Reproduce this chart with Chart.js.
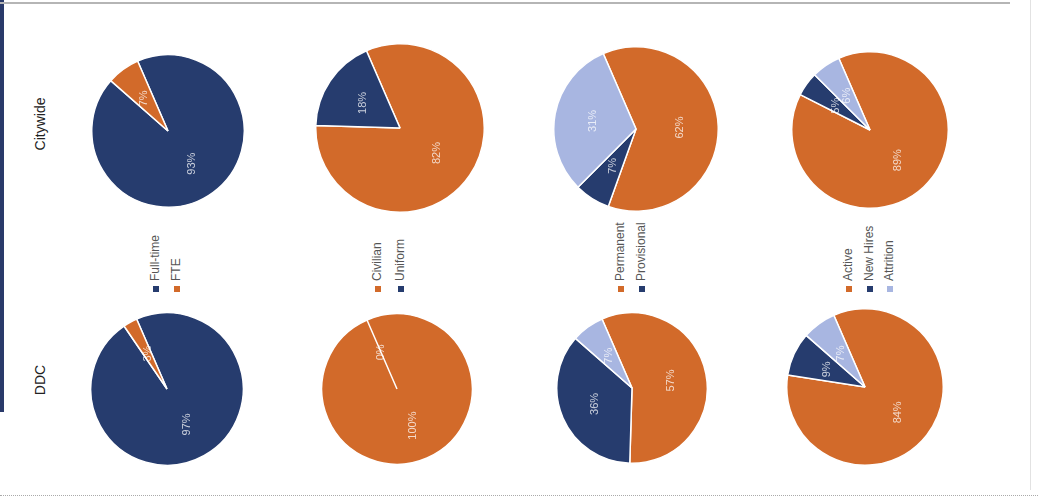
<!DOCTYPE html>
<html>
<head>
<meta charset="utf-8">
<title>Workforce pies</title>
<script src="https://cdn.jsdelivr.net/npm/chart.js@4.4.0/dist/chart.umd.min.js"></script>
<style>
  html, body { margin: 0; padding: 0; background: #fff; }
  body { width: 1038px; height: 502px; position: relative; overflow: hidden; font-family: "Liberation Sans", Arial, sans-serif; }
  .pie { position: absolute; }
  .rowlabel { position: absolute; width: 200px; height: 20px; line-height: 20px; text-align: center; font-size: 14px; color: #222; transform: rotate(-90deg); }
  .lg { position: absolute; transform-origin: 0 0; transform: rotate(-90deg); white-space: nowrap; font-size: 12px; line-height: 12px; height: 12px; color: #555; }
  .lg i { display: inline-block; width: 6px; height: 6px; margin-right: 5px; vertical-align: 0px; }
  .edge-left { position: absolute; left: 0; top: 0; width: 4px; height: 412px; background: #2a3a6a; }
  .edge-top { position: absolute; left: 0; top: 2px; width: 1010px; height: 2px; background: #b5b5b5; }
  .edge-bottom { position: absolute; left: 0; top: 495px; width: 1038px; border-top: 1px dotted #aaa; }
  .edge-right { position: absolute; left: 1030px; top: 0; width: 1px; height: 490px; background: #e2e2e2; }
</style>
</head>
<body>
<div class="edge-left"></div>
<div class="edge-top"></div>
<div class="edge-bottom"></div>
<div class="edge-right"></div>

<div class="rowlabel" style="left:-60px; top:114px;">Citywide</div>
<div class="rowlabel" style="left:-60px; top:370px;">DDC</div>

<script>
// categories
const workTypeCats = ["Full-time", "FTE"];
const staffCats = ["Civilian", "Uniform"];
const statusCats = ["Permanent", "Provisional", "Other"];
const hiringCats = ["Active", "New Hires", "Attrition"];

// values (%), top row = Citywide, bottom row = DDC
const citywideWorkType = [93, 7];
const ddcWorkType = [97, 3];
const citywideStaff = [82, 18];
const ddcStaff = [100, 0];
const citywideStatus = [62, 7, 31];
const ddcStatus = [57, 36, 7];
const citywideHiring = [89, 5, 6];
const ddcHiring = [84, 9, 7];

const ORANGE = "#d26a2a";
const NAVY = "#263c6e";
const LIGHT = "#a8b6e1";

const workTypeColors = [NAVY, ORANGE];
const staffColors = [ORANGE, NAVY];
const statusColors = [ORANGE, NAVY, LIGHT];
const hiringColors = [ORANGE, NAVY, LIGHT];

// legend entries shown for each column (the third status slice has no legend entry)
const legends = [
  { cats: workTypeCats, colors: workTypeColors, xs: [155, 176] },
  { cats: staffCats, colors: staffColors, xs: [377, 400] },
  { cats: statusCats.slice(0, 2), colors: statusColors, xs: [620, 641] },
  { cats: hiringCats, colors: hiringColors, xs: [848, 869, 889] },
];

// pie layout: centre and radius
const pies = [
  { cats: workTypeCats, data: citywideWorkType, colors: workTypeColors, cx: 168, cy: 131, r: 76 },
  { cats: staffCats, data: citywideStaff, colors: staffColors, cx: 400, cy: 128, r: 84 },
  { cats: statusCats, data: citywideStatus, colors: statusColors, cx: 636, cy: 129, r: 82 },
  { cats: hiringCats, data: citywideHiring, colors: hiringColors, cx: 870, cy: 130, r: 78 },
  { cats: workTypeCats, data: ddcWorkType, colors: workTypeColors, cx: 167, cy: 389, r: 76 },
  { cats: staffCats, data: ddcStaff, colors: staffColors, cx: 397, cy: 389, r: 75 },
  { cats: statusCats, data: ddcStatus, colors: statusColors, cx: 632, cy: 388, r: 75 },
  { cats: hiringCats, data: ddcHiring, colors: hiringColors, cx: 865, cy: 387, r: 78 },
];

// percentage labels, written sideways like the page
const pctLabels = {
  id: "pctLabels",
  afterDatasetsDraw(chart) {
    const ctx = chart.ctx;
    const meta = chart.getDatasetMeta(0);
    const values = chart.data.datasets[0].data;
    ctx.save();
    ctx.font = "11px 'Liberation Sans', Arial, sans-serif";
    ctx.fillStyle = "rgba(255,255,255,0.75)";
    ctx.textAlign = "center";
    ctx.textBaseline = "middle";
    meta.data.forEach((arc, i) => {
      const p = arc.getProps(["x", "y", "startAngle", "endAngle", "outerRadius"], true);
      const mid = (p.startAngle + p.endAngle) / 2;
      const d = p.outerRadius * 0.53;
      ctx.save();
      ctx.translate(p.x + Math.cos(mid) * d, p.y + Math.sin(mid) * d);
      ctx.rotate(-Math.PI / 2);
      ctx.fillText(values[i] + "%", 0, 0);
      ctx.restore();
    });
    ctx.restore();
  },
};

pies.forEach((p) => {
  const box = document.createElement("div");
  box.className = "pie";
  const size = p.r * 2 + 2;
  box.style.left = (p.cx - size / 2) + "px";
  box.style.top = (p.cy - size / 2) + "px";
  box.style.width = size + "px";
  box.style.height = size + "px";
  const canvas = document.createElement("canvas");
  box.appendChild(canvas);
  document.body.appendChild(box);

  new Chart(canvas.getContext("2d"), {
    type: "pie",
    data: {
      labels: p.cats,
      datasets: [
        {
          data: p.data,
          backgroundColor: p.colors,
          borderColor: "#ffffff",
          borderWidth: 1.5,
        },
      ],
    },
    options: {
      responsive: true,
      maintainAspectRatio: false,
      animation: false,
      rotation: -23.5,
      layout: { padding: 0 },
      plugins: {
        legend: { display: false },
        tooltip: { enabled: false },
      },
    },
    plugins: [pctLabels],
  });
});

legends.forEach((g) => {
  g.cats.forEach((name, i) => {
    const el = document.createElement("div");
    el.className = "lg";
    el.style.left = (g.xs[i] - 6) + "px";
    el.style.top = "292px";
    const sw = document.createElement("i");
    sw.style.background = g.colors[i];
    el.appendChild(sw);
    el.appendChild(document.createTextNode(name));
    document.body.appendChild(el);
  });
});
</script>
</body>
</html>
